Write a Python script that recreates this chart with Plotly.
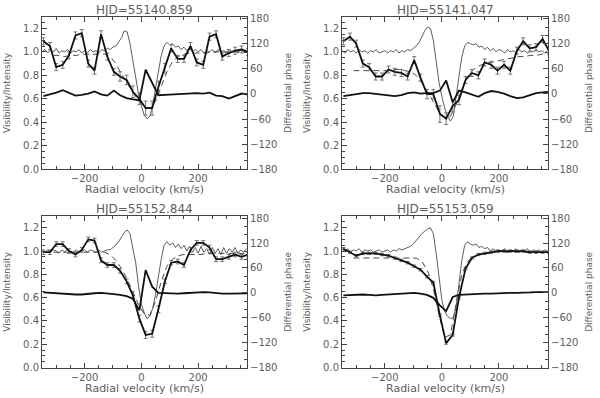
import plotly.graph_objects as go

TITLES = ["HJD=55140.859", "HJD=55141.047", "HJD=55152.844", "HJD=55153.059"]

# spectrum (intensity), 10 km/s sampling
VEL_SPEC = [-350, -340, -330, -320, -310, -300, -290, -280, -270, -260,
            -250, -240, -230, -220, -210, -200, -190, -180, -170, -160,
            -150, -140, -130, -120, -110, -100, -90, -80, -70, -60,
            -50, -40, -30, -20, -10, 0, 10, 20, 30, 40,
            50, 60, 70, 80, 90, 100, 110, 120, 130, 140,
            150, 160, 170, 180, 190, 200, 210, 220, 230, 240,
            250, 260, 270, 280, 290, 300, 310, 320, 330, 340,
            350, 360, 370]

SPEC_1 = [1.00, 1.02, 0.99, 1.02, 1.00, 1.03, 0.99, 1.01, 1.00, 1.02,
          0.99, 1.01, 1.00, 1.02, 0.99, 1.01, 0.99, 1.02, 1.00, 1.01,
          0.99, 1.02, 1.01, 1.03, 1.02, 1.04, 1.05, 1.08, 1.12, 1.18,
          1.17, 1.07, 0.93, 0.78, 0.64, 0.54, 0.46, 0.43, 0.45, 0.55,
          0.69, 0.84, 0.97, 1.05, 1.08, 1.06, 1.07, 1.04, 1.05, 1.02,
          1.04, 1.01, 1.03, 1.00, 1.02, 1.00, 1.02, 0.99, 1.01, 1.00,
          1.02, 0.99, 1.02, 1.00, 1.01, 0.99, 1.02, 1.00, 1.01, 0.99,
          1.02, 1.00, 1.01]
SPEC_2 = [1.01, 0.99, 1.02, 1.00, 1.01, 0.99, 1.02, 1.00, 1.01, 0.99,
          1.01, 1.00, 1.02, 0.99, 1.00, 1.01, 0.99, 1.01, 1.00, 1.02,
          0.99, 1.01, 1.00, 1.02, 1.01, 1.03, 1.05, 1.08, 1.13, 1.18,
          1.21, 1.20, 1.10, 0.92, 0.74, 0.62, 0.52, 0.45, 0.41, 0.45,
          0.62, 0.80, 0.96, 1.05, 1.08, 1.07, 1.06, 1.07, 1.04, 1.05,
          1.02, 1.04, 1.01, 1.03, 1.00, 1.02, 1.01, 0.99, 1.02, 1.00,
          1.01, 0.99, 1.02, 1.00, 1.01, 0.99, 1.01, 1.00, 1.02, 1.00,
          1.01, 0.99, 1.01]
SPEC_3 = [1.00, 0.99, 1.01, 0.99, 1.01, 1.00, 0.98, 1.01, 0.99, 1.02,
          1.00, 0.99, 1.01, 0.99, 1.00, 1.01, 0.99, 1.01, 1.00, 0.99,
          1.01, 0.99, 1.00, 1.01, 1.01, 1.03, 1.05, 1.08, 1.12, 1.16,
          1.18, 1.15, 1.02, 0.90, 0.70, 0.54, 0.47, 0.42, 0.44, 0.51,
          0.63, 0.79, 0.93, 1.05, 1.08, 1.05, 1.07, 1.03, 1.06, 1.02,
          1.05, 1.00, 1.04, 0.99, 1.03, 0.98, 1.04, 0.99, 1.02, 0.97,
          1.03, 0.98, 1.02, 0.97, 1.03, 0.98, 1.02, 0.99, 1.03, 0.98,
          1.01, 0.99, 1.02]
SPEC_4 = [1.02, 1.00, 1.02, 0.99, 1.01, 1.00, 1.02, 0.99, 1.01, 1.00,
          1.01, 0.99, 1.00, 1.01, 0.99, 1.00, 1.01, 0.99, 1.01, 1.00,
          1.02, 1.01, 1.02, 1.03, 1.04, 1.06, 1.09, 1.12, 1.15, 1.17,
          1.19, 1.20, 1.15, 0.98, 0.76, 0.58, 0.48, 0.44, 0.42, 0.43,
          0.52, 0.70, 0.92, 1.05, 1.08, 1.06, 1.05, 1.06, 1.03, 1.04,
          1.02, 1.03, 1.00, 1.02, 0.99, 1.01, 1.00, 1.02, 0.99, 1.01,
          1.00, 1.02, 0.99, 1.01, 1.00, 1.02, 0.99, 1.01, 1.00, 1.01,
          0.99, 1.01, 1.00]

# measured visibility and differential phase
VEL_VIS = [-345, -322, -300, -277, -255, -232, -210, -187, -165, -142, -120,
           -97, -75, -52, -30, -7, 15, 38, 60, 83, 105, 128, 150, 173, 195,
           218, 240, 263, 285, 308, 330, 353, 375]

VIS_1 = [1.09, 1.05, 0.87, 0.89, 0.97, 1.14, 1.16, 0.90, 0.84, 1.15, 0.96,
         0.83, 0.79, 0.76, 0.66, 0.60, 0.52, 0.52, 0.70, 0.86, 1.03, 0.94,
         0.94, 1.05, 0.91, 0.89, 1.13, 1.15, 0.96, 0.99, 1.01, 1.02, 1.00]
ERR_1 = [0.03, 0.03, 0.03, 0.03, 0.03, 0.03, 0.03, 0.03, 0.03, 0.03, 0.03,
         0.03, 0.04, 0.04, 0.05, 0.05, 0.06, 0.06, 0.05, 0.04, 0.03, 0.03,
         0.03, 0.03, 0.03, 0.03, 0.03, 0.03, 0.03, 0.03, 0.03, 0.03, 0.03]
PHASE_1 = [-5, -1, 3, 9, 2, -4, -2, 1, 6, -1, -4, 8, -3, -10, -13, -15, 58,
           28, -3, -2, -1, -1, 0, 1, 2, 1, 3, -4, -5, -11, -5, 1, -1]

VIS_2 = [1.09, 1.13, 1.07, 0.90, 0.87, 0.79, 0.79, 0.85, 0.83, 0.82, 0.79,
         0.93, 0.78, 0.64, 0.64, 0.47, 0.43, 0.54, 0.59, 0.76, 0.82, 0.80,
         0.91, 0.89, 0.84, 0.89, 0.84, 1.01, 1.09, 1.03, 1.04, 1.11, 1.01]
ERR_2 = [0.03, 0.03, 0.03, 0.03, 0.03, 0.03, 0.03, 0.03, 0.03, 0.03, 0.03,
         0.03, 0.03, 0.04, 0.04, 0.07, 0.05, 0.05, 0.04, 0.03, 0.03, 0.03,
         0.03, 0.03, 0.03, 0.03, 0.03, 0.03, 0.03, 0.03, 0.03, 0.03, 0.03]
PHASE_2 = [-5, -3, 0, 2, 2, 0, -2, -3, -5, -3, 2, 4, 1, 2, 2, 8, 32, -20, 8,
           4, -2, -7, 2, 7, 5, 1, -5, -10, -8, -2, 2, 4, 5]

VIS_3 = [0.99, 0.99, 1.06, 1.06, 1.00, 0.97, 1.01, 1.10, 1.09, 0.92, 0.88,
         0.88, 0.83, 0.74, 0.62, 0.42, 0.28, 0.29, 0.50, 0.74, 0.90, 0.91,
         0.88, 1.01, 1.07, 1.07, 1.03, 0.93, 0.93, 0.95, 0.97, 0.95, 0.97]
ERR_3 = [0.02, 0.02, 0.02, 0.02, 0.02, 0.02, 0.02, 0.02, 0.02, 0.02, 0.02,
         0.02, 0.02, 0.02, 0.03, 0.03, 0.03, 0.03, 0.03, 0.02, 0.02, 0.02,
         0.02, 0.02, 0.02, 0.02, 0.02, 0.02, 0.02, 0.02, 0.02, 0.02, 0.02]
PHASE_3 = [1, 0, -2, -3, -3, -4, -4, -2, -1, 0, -1, -3, -5, -8, -14, -42, 55,
           15, 0, -1, -2, -2, -1, 0, 1, 2, 1, -1, -2, -2, -2, -2, -1]

VIS_4 = [1.02, 0.99, 0.96, 0.98, 0.98, 0.98, 0.97, 0.96, 0.94, 0.92, 0.90,
         0.87, 0.84, 0.78, 0.73, 0.45, 0.21, 0.28, 0.60, 0.85, 0.94, 0.97,
         0.98, 0.99, 1.00, 1.00, 1.00, 1.00, 1.00, 0.99, 0.99, 0.99, 0.99]
ERR_4 = [0.01, 0.01, 0.01, 0.01, 0.01, 0.01, 0.01, 0.01, 0.01, 0.01, 0.01,
         0.01, 0.01, 0.01, 0.01, 0.01, 0.01, 0.01, 0.01, 0.01, 0.01, 0.01,
         0.01, 0.01, 0.01, 0.01, 0.01, 0.01, 0.01, 0.01, 0.01, 0.01, 0.01]
PHASE_4 = [-6, -5, -4, -4, -5, -6, -5, -4, -3, -2, -1, 0, -2, -5, -12, -30,
           -44, -10, -5, -4, -4, -3, -2, -2, -1, -1, 0, 0, 0, 1, 2, 2, 2]

# model visibility (dashed)
VEL_MODEL = [-310, -290, -270, -250, -230, -210, -190, -170, -150, -130,
             -110, -90, -70, -50, -30, -10, 10, 30, 50, 70,
             90, 110, 130, 150, 170, 190, 210, 230, 250, 270,
             290, 310, 330, 350, 370]
MODEL_1 = [0.97, 0.97, 0.96, 0.97, 0.97, 0.98, 0.98, 0.98, 0.98, 0.98,
           0.96, 0.90, 0.81, 0.73, 0.65, 0.58, 0.53, 0.52, 0.58, 0.70,
           0.83, 0.92, 0.96, 0.98, 0.99, 0.99, 0.99, 0.99, 1.00, 1.00,
           1.00, 1.00, 1.00, 1.00, 1.00]
MODEL_2 = [0.84, 0.84, 0.84, 0.84, 0.84, 0.84, 0.84, 0.85, 0.85, 0.84,
           0.83, 0.80, 0.74, 0.66, 0.57, 0.49, 0.44, 0.45, 0.55, 0.68,
           0.79, 0.85, 0.88, 0.90, 0.91, 0.92, 0.93, 0.94, 0.95, 0.96,
           0.96, 0.97, 0.97, 0.98, 0.99]
MODEL_3 = [0.99, 0.99, 0.99, 0.99, 0.99, 0.99, 0.99, 0.99, 0.99, 0.99,
           0.97, 0.92, 0.85, 0.76, 0.65, 0.54, 0.46, 0.45, 0.57, 0.74,
           0.87, 0.93, 0.96, 0.97, 0.97, 0.97, 0.97, 0.98, 0.98, 0.98,
           0.98, 0.98, 0.98, 0.98, 0.98]
MODEL_4 = [0.94, 0.94, 0.94, 0.94, 0.94, 0.94, 0.94, 0.94, 0.94, 0.94,
           0.94, 0.94, 0.91, 0.83, 0.68, 0.45, 0.26, 0.28, 0.55, 0.80,
           0.91, 0.95, 0.97, 0.98, 0.98, 0.99, 0.99, 0.99, 0.99, 0.99,
           0.99, 0.99, 0.99, 0.99, 0.99]

PANELS = [
    (SPEC_1, VIS_1, ERR_1, PHASE_1, MODEL_1),
    (SPEC_2, VIS_2, ERR_2, PHASE_2, MODEL_2),
    (SPEC_3, VIS_3, ERR_3, PHASE_3, MODEL_3),
    (SPEC_4, VIS_4, ERR_4, PHASE_4, MODEL_4),
]

W, H = 600, 398
X_PX = [(42, 247), (342, 548), (42, 247), (342, 548)]
Y_PX = [(14, 170), (14, 170), (218, 373), (218, 373)]
FONT = "DejaVu Sans"
TXT = "#5e5e5e"
AX = "#444444"


def px_x(p):
    return p / W


def px_y(p):
    return 1 - p / H


fig = go.Figure()
layout = {}
annotations = []

for i, (spec, vis, err, phase, model) in enumerate(PANELS, start=1):
    xa = "x" if i == 1 else f"x{i}"
    yl = "y" if i == 1 else f"y{2 * i - 1}"
    yr = f"y{2 * i}"

    fig.add_trace(go.Scatter(x=VEL_SPEC, y=spec, mode="lines", xaxis=xa, yaxis=yl,
                             line={"color": "#4a4a4a", "width": 0.9}, showlegend=False))
    fig.add_trace(go.Scatter(x=VEL_MODEL, y=model, mode="lines", xaxis=xa, yaxis=yl,
                             line={"color": "#4a4a4a", "width": 1, "dash": "6px,4px"},
                             showlegend=False))
    fig.add_trace(go.Scatter(x=VEL_VIS, y=vis, mode="lines", xaxis=xa, yaxis=yl,
                             line={"color": "#111111", "width": 1.8},
                             error_y={"type": "data", "array": err, "color": "#777777",
                                      "thickness": 1, "width": 2},
                             showlegend=False))
    fig.add_trace(go.Scatter(x=VEL_VIS, y=phase, mode="lines", xaxis=xa, yaxis=yr,
                             line={"color": "#111111", "width": 1.8}, showlegend=False))

    x0, x1 = X_PX[i - 1]
    yt, yb = Y_PX[i - 1]
    xdom = [px_x(x0), px_x(x1)]
    ydom = [px_y(yb), px_y(yt)]
    tickfont = {"family": FONT, "size": 10, "color": TXT}
    common = {"showgrid": False, "zeroline": False, "showline": True,
              "linecolor": AX, "linewidth": 1, "ticks": "inside",
              "tickcolor": AX, "tickfont": tickfont}

    layout["xaxis" if i == 1 else f"xaxis{i}"] = dict(
        common, domain=xdom, anchor=yl, range=[-350, 372], tickvals=[-200, 0, 200],
        ticktext=["\u2212200", "0", "200"], ticklen=5, mirror="ticks",
        minor={"dtick": 50, "tick0": 0, "ticklen": 3, "ticks": "inside", "tickcolor": AX})
    layout["yaxis" if i == 1 else f"yaxis{2 * i - 1}"] = dict(
        common, domain=ydom, anchor=xa, range=[0, 1.3],
        tickvals=[0, 0.2, 0.4, 0.6, 0.8, 1.0, 1.2], tickformat=".1f", ticklen=5,
        minor={"dtick": 0.05, "tick0": 0, "ticklen": 3, "ticks": "inside", "tickcolor": AX})
    layout[f"yaxis{2 * i}"] = dict(
        common, overlaying=yl, anchor=xa, side="right", range=[-180, 185],
        tickvals=[-180, -120, -60, 0, 60, 120, 180],
        ticktext=["\u2212180", "\u2212120", "\u221260", "0", "60", "120", "180"],
        ticklen=5,
        minor={"dtick": 20, "tick0": 0, "ticklen": 3, "ticks": "inside", "tickcolor": AX})

    xc = (x0 + x1) / 2
    yc = (yt + yb) / 2
    annotations.append(dict(text=TITLES[i - 1], x=px_x(xc), y=px_y(yt - 7), xref="paper",
                            yref="paper", showarrow=False, xanchor="center", yanchor="middle",
                            font={"family": FONT, "size": 12, "color": TXT}))
    annotations.append(dict(text="Radial velocity (km/s)", x=px_x(xc), y=px_y(yb + 21),
                            xref="paper", yref="paper", showarrow=False, xanchor="center",
                            yanchor="middle", font={"family": FONT, "size": 11, "color": TXT}))
    annotations.append(dict(text="Visibility/Intensity", x=px_x(x0 - 35), y=px_y(yc),
                            xref="paper", yref="paper", showarrow=False, textangle=-90,
                            xanchor="center", yanchor="middle",
                            font={"family": FONT, "size": 9, "color": TXT}))
    annotations.append(dict(text="Differential phase", x=px_x(x1 + 41), y=px_y(yc),
                            xref="paper", yref="paper", showarrow=False, textangle=-90,
                            xanchor="center", yanchor="middle",
                            font={"family": FONT, "size": 9, "color": TXT}))

fig.update_layout(
    width=W, height=H,
    margin={"l": 0, "r": 0, "t": 0, "b": 0},
    paper_bgcolor="white", plot_bgcolor="white",
    annotations=annotations,
    **layout,
)

# the page's default body margin would shift the 600x398 figure by 8px
fig.write_html("out.html", config={"displayModeBar": False},
               post_script="document.body.style.margin = '0px';")
